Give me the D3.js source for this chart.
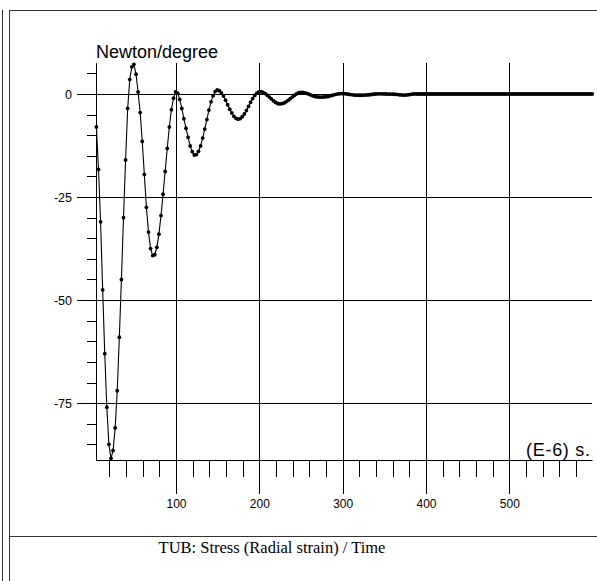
<!DOCTYPE html>
<html>
<head>
<meta charset="utf-8">
<script src="https://cdn.jsdelivr.net/npm/d3@7"></script>
<style>
  body { margin: 0; background: #fff; }
  svg { display: block; }
</style>
</head>
<body>
<svg id="chart" width="597" height="581"></svg>
<script>
// ---- Data ----
const chartTitle = "TUB: Stress (Radial strain) / Time";
const yUnitLabel = "Newton/degree";
const xUnitLabel = "(E-6) s.";

// uniformly sampled signal: time of first sample and sampling interval (E-6 s)
const timeStart = 4.5;
const timeStep = 2.5;

// stress values (Newton/degree), one per sample
const stressValues = [
  -8, -18.3, -31, -47.5, -63, -76, -85, -88.4, -86.5, -81,
  -72, -59, -45, -30, -16, -3.5, 3.5, 6.6, 7.2, 4.8,
  0.5, -4.5, -11.5, -19.5, -27.5, -33.5, -37.5, -39.2, -39.0, -37.2,
  -34, -29.5, -24.3, -18.8, -13.2, -8, -3.8, -1, 0.5, 0.2,
  -1.3, -3.5, -6, -8.3, -10.5, -12.6, -14, -14.8, -14.7, -13.9,
  -12.6, -10.7, -8.5, -6.2, -3.9, -1.9, -0.4, 0.6, 1.0, 0.8,
  0.3, -0.5, -1.5, -2.6, -3.7, -4.6, -5.4, -5.9, -6.1, -5.95,
  -5.5, -4.85, -4.0, -3.0, -2.0, -1.1, -0.35, 0.2, 0.5, 0.55,
  0.4, 0.1, -0.3, -0.75, -1.2, -1.65, -2.05, -2.3, -2.4, -2.35,
  -2.2, -1.9, -1.55, -1.15, -0.75, -0.35, 0, 0.25, 0.4, 0.4,
  0.3, 0.15, -0.05, -0.25, -0.45, -0.6, -0.7, -0.75, -0.75, -0.72,
  -0.68, -0.6, -0.48, -0.34, -0.2, -0.08, 0.02, 0.08, 0.1, 0.08,
  0.02, -0.06, -0.14, -0.2, -0.25, -0.28, -0.3, -0.3, -0.28, -0.25,
  -0.22, -0.18, -0.12, -0.06, 0, 0.04, 0.05, 0.04, 0.02, 0,
  -0.02, -0.03, -0.04, -0.05, -0.08, -0.15, -0.22, -0.25, -0.25, -0.22,
  -0.15, -0.08, 0, 0.03, 0, 0, 0, 0, 0, 0,
  0, 0, 0, 0, 0, 0, 0, 0, 0, 0,
  0, 0, 0, 0, 0, 0, 0, 0, 0, 0,
  0, 0, 0, 0, 0, 0, 0, 0, 0, 0,
  0, 0, 0, 0, 0, 0, 0, 0, 0, 0,
  0, 0, 0, 0, 0, 0, 0, 0, 0, 0,
  0, 0, 0, 0, 0, 0, 0, 0, 0, 0,
  0, 0, 0, 0, 0, 0, 0, 0, 0, 0,
  0, 0, 0, 0, 0, 0, 0, 0, 0
];

// axes
const xDomain = [4, 599.2];
const yDomain = [-88.8, 7.6];
const xMajorTicks = [100, 200, 300, 400, 500];
const xMajorLabels = ["100", "200", "300", "400", "500"];
const xMinorTicks = [20, 40, 60, 80, 120, 140, 160, 180, 220, 240, 260, 280,
  320, 340, 360, 380, 420, 440, 460, 480, 520, 540, 560, 580];
const yMajorTicks = [0, -25, -50, -75];
const yMajorLabels = ["0", "-25", "-50", "-75"];
const yMinorTicks = [5, -5, -10, -15, -20, -30, -35, -40, -45, -55, -60, -65, -70, -80, -85];

// ---- Drawing ----
const svg = d3.select("#chart");
const sans = "'Liberation Sans', Arial, 'DejaVu Sans', sans-serif";
const serif = "'Liberation Serif', 'Times New Roman', serif";

const plotLeft = 96, plotRight = 592, plotTop = 62.7, plotBottom = 460;
const x = d3.scaleLinear().domain(xDomain).range([plotLeft, plotRight]);
const y = d3.scaleLinear().domain(yDomain).range([plotBottom, plotTop]);

svg.append("rect").attr("width", 597).attr("height", 581).attr("fill", "#fff");

// frame lines
const frame = svg.append("g").attr("stroke", "#333").attr("stroke-width", 1)
  .attr("shape-rendering", "crispEdges");
frame.append("line").attr("x1", 2.5).attr("x2", 2.5).attr("y1", 10).attr("y2", 581);
frame.append("line").attr("x1", 9.5).attr("x2", 9.5).attr("y1", 10).attr("y2", 581);
frame.append("line").attr("x1", 9.5).attr("x2", 597).attr("y1", 10.5).attr("y2", 10.5);
frame.append("line").attr("x1", 9.5).attr("x2", 597).attr("y1", 536.5).attr("y2", 536.5);

function styleAxis(g, fontSize) {
  g.select(".domain").attr("stroke", "#000");
  g.selectAll(".tick line").attr("stroke", "#000").attr("shape-rendering", "crispEdges");
  g.selectAll(".tick text").attr("fill", "#000").attr("font-family", sans)
    .attr("font-size", fontSize);
}

// horizontal major gridlines + labels
const gridLeft = 77;
const yGrid = svg.append("g").attr("transform", `translate(${gridLeft},0)`)
  .call(d3.axisLeft(y).tickValues(yMajorTicks)
    .tickSize(-(plotRight - gridLeft)).tickSizeOuter(0).tickPadding(5)
    .tickFormat((d, i) => yMajorLabels[i]));
yGrid.select(".domain").remove();
styleAxis(yGrid, 12.5);

// vertical major gridlines + labels
const xGridBottom = 494;
const xGrid = svg.append("g").attr("transform", `translate(0,${xGridBottom})`)
  .call(d3.axisBottom(x).tickValues(xMajorTicks)
    .tickSize(-(xGridBottom - plotTop)).tickSizeOuter(0).tickPadding(5.5)
    .tickFormat((d, i) => xMajorLabels[i]));
xGrid.select(".domain").remove();
styleAxis(xGrid, 12);

// minor y ticks + y axis line
const yMinor = svg.append("g").attr("transform", `translate(${plotLeft},0)`)
  .call(d3.axisLeft(y).tickValues(yMinorTicks).tickSize(9).tickSizeOuter(0).tickFormat(""));
styleAxis(yMinor, 12);

// minor x ticks + x axis line
const xMinor = svg.append("g").attr("transform", `translate(0,${plotBottom})`)
  .call(d3.axisBottom(x).tickValues(xMinorTicks).tickSize(17).tickSizeOuter(0).tickFormat(""));
styleAxis(xMinor, 12);

// data
const series = stressValues.map((v, i) => ({ t: timeStart + i * timeStep, v }));
const line = d3.line().x(d => x(d.t)).y(d => y(d.v));
svg.append("path").datum(series)
  .attr("d", line).attr("fill", "none").attr("stroke", "#000").attr("stroke-width", 1.1);
svg.append("g").selectAll("circle").data(series).join("circle")
  .attr("cx", d => x(d.t)).attr("cy", d => y(d.v)).attr("r", 1.9).attr("fill", "#000");

// texts
svg.append("text").attr("x", plotLeft).attr("y", 57.5)
  .attr("font-family", sans).attr("font-size", 18).attr("fill", "#000")
  .text(yUnitLabel);
svg.append("text").attr("x", 526).attr("y", 456)
  .attr("font-family", sans).attr("font-size", 18).attr("fill", "#000")
  .attr("textLength", 64).attr("lengthAdjust", "spacing")
  .text(xUnitLabel);
svg.append("text").attr("x", 272).attr("y", 553)
  .attr("text-anchor", "middle")
  .attr("font-family", serif).attr("font-size", 16.5).attr("fill", "#000")
  .text(chartTitle);
</script>
</body>
</html>
